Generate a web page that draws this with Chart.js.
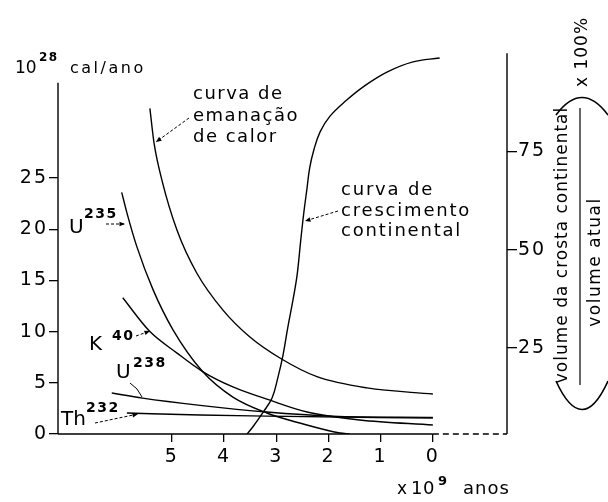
<!DOCTYPE html>
<html><head><meta charset="utf-8">
<script src="https://cdn.jsdelivr.net/npm/chart.js@4.4.1/dist/chart.umd.min.js"></script>
<style>html,body{margin:0;padding:0;background:#fff;}canvas{display:block;}</style>
</head><body>
<canvas id="c" width="608" height="502"></canvas>
<script>
// ---- tick labels ----
const xTicks = [5, 4, 3, 2, 1, 0];
const yTicks = [0, 5, 10, 15, 20, 25];
const y2Ticks = [25, 50, 75];

// ---- series (age in 10^9 anos, value) ----
const heatAge = [5.42, 5.34, 5.19, 4.90, 4.52, 4.02, 3.51, 2.89, 2.22, 1.26, 0];
const heatVal = [31.8, 28.4, 24.8, 19.9, 15.7, 12.1, 9.5, 7.3, 5.6, 4.5, 3.9];

const u235Age = [5.96, 5.86, 5.67, 5.36, 4.98, 4.41, 3.83, 3.18, 2.55, 1.78, 1.59];
const u235Val = [23.6, 21.6, 18.3, 14.1, 10.2, 6.1, 3.6, 2.05, 1.07, 0.1, 0];

const k40Age = [5.94, 5.42, 4.90, 4.41, 3.83, 3.12, 2.41, 1.40, 0];
const k40Val = [13.3, 10.0, 7.9, 6.1, 4.6, 3.3, 2.15, 1.37, 0.88];

const u238Age = [6.15, 5.56, 4.46, 3.18, 1.92, 0];
const u238Val = [4.0, 3.5, 2.8, 2.15, 1.75, 1.62];

const th232Age = [5.86, 4.46, 3.18, 0];
const th232Val = [2.05, 1.85, 1.75, 1.55];

// continental growth, % of present volume (right axis)
const growthAge = [3.56, 3.45, 3.26, 3.08, 2.97, 2.87, 2.78, 2.68, 2.60, 2.53, 2.47, 2.41, 2.36, 2.28, 2.16, 1.97, 1.65, 1.34, 0.88, 0.38, -0.13];
const growthVal = [3.1, 4.9, 8.5, 12.3, 17.4, 23.2, 30.1, 37.2, 43.6, 52.5, 59.6, 65.7, 70.8, 75.4, 80.0, 84.0, 88.1, 91.4, 95.2, 97.8, 98.8];

const zip = (a, b) => a.map((v, i) => ({x: v, y: b[i]}));
const FF = '"DejaVu Sans", sans-serif';

const spacing = {
  id: 'spacing',
  beforeDraw(chart) { chart.ctx.letterSpacing = '2px'; },
  afterDatasetsDraw(chart) { chart.ctx.letterSpacing = '0px'; }
};

function arrowHead(ctx, x1, y1, x2, y2, size) {
  const a = Math.atan2(y2 - y1, x2 - x1);
  ctx.beginPath();
  ctx.moveTo(x2, y2);
  ctx.lineTo(x2 - size * Math.cos(a - 0.4), y2 - size * Math.sin(a - 0.4));
  ctx.lineTo(x2 - size * Math.cos(a + 0.4), y2 - size * Math.sin(a + 0.4));
  ctx.closePath();
  ctx.fill();
}
function arrow(ctx, x1, y1, x2, y2, dashed) {
  ctx.save();
  ctx.lineWidth = 1;
  ctx.setLineDash(dashed ? [3, 2] : []);
  ctx.beginPath(); ctx.moveTo(x1, y1); ctx.lineTo(x2, y2); ctx.stroke();
  ctx.setLineDash([]);
  arrowHead(ctx, x1, y1, x2, y2, 6);
  ctx.restore();
}
function txt(ctx, s, x, y, size, bold, sp) {
  ctx.font = (bold ? 'bold ' : '') + size + 'px ' + FF;
  ctx.letterSpacing = (sp || 0) + 'px';
  ctx.fillText(s, x, y);
}

const annot = {
  id: 'annot',
  afterDraw(chart) {
    const ctx = chart.ctx;
    const {x, y, y2} = chart.scales;
    const ca = chart.chartArea;
    ctx.save();
    ctx.strokeStyle = '#000';
    ctx.fillStyle = '#000';
    ctx.lineWidth = 1.4;
    // axis lines
    ctx.beginPath();
    ctx.moveTo(ca.left, y.getPixelForValue(0));
    ctx.lineTo(ca.left, y.getPixelForValue(34.3));
    ctx.moveTo(ca.left, y.getPixelForValue(0));
    ctx.lineTo(x.getPixelForValue(0), y.getPixelForValue(0));
    ctx.moveTo(ca.right, y.getPixelForValue(0));
    ctx.lineTo(ca.right, y2.getPixelForValue(100));
    ctx.stroke();
    ctx.setLineDash([6, 4]);
    ctx.beginPath();
    ctx.moveTo(x.getPixelForValue(0), y.getPixelForValue(0));
    ctx.lineTo(ca.right, y.getPixelForValue(0));
    ctx.stroke();
    ctx.setLineDash([]);

    ctx.textAlign = 'left';
    ctx.textBaseline = 'alphabetic';
    // left axis title
    txt(ctx, '10', 15, 73, 17, false, 0);
    txt(ctx, '28', 39, 61, 12, true, 1.5);
    txt(ctx, 'cal/ano', 70, 73, 16, false, 2.5);
    // heat emanation label
    txt(ctx, 'curva de', 193, 99, 18, false, 1.5);
    txt(ctx, 'emanação', 193, 121, 18, false, 1.5);
    txt(ctx, 'de calor', 193, 142, 18, false, 1.5);
    arrow(ctx, 189, 118, 156, 142, true);
    // continental growth label
    txt(ctx, 'curva de', 341, 195, 18, false, 1.8);
    txt(ctx, 'crescimento', 341, 216, 18, false, 1.8);
    txt(ctx, 'continental', 341, 236, 18, false, 1.8);
    arrow(ctx, 338, 211, 305, 221, true);
    // isotope labels
    txt(ctx, 'U', 69, 233, 20, false, 0);
    txt(ctx, '235', 84, 218, 14, true, 1.5);
    arrow(ctx, 106, 224, 125, 224, true);
    txt(ctx, 'K', 89, 350, 20, false, 0);
    txt(ctx, '40', 112, 340, 14, true, 1.5);
    arrow(ctx, 136, 336, 150, 331, true);
    txt(ctx, 'U', 116, 378, 20, false, 0);
    txt(ctx, '238', 133, 367, 14, true, 1.5);
    ctx.lineWidth = 1;
    ctx.beginPath(); ctx.moveTo(130, 383); ctx.quadraticCurveTo(138, 388, 142, 397); ctx.stroke();
    txt(ctx, 'Th', 61, 425, 20, false, 0);
    txt(ctx, '232', 86, 412, 14, true, 1.5);
    arrow(ctx, 95, 423, 138, 414, true);
    // x axis title
    txt(ctx, 'x', 397, 494, 17, false, 0);
    txt(ctx, '10', 411, 494, 18, false, 0.5);
    txt(ctx, '9', 438, 485, 13, true, 0);
    txt(ctx, 'anos', 463, 494, 18, false, 1);

    // right axis title (rotated)
    ctx.save();
    ctx.translate(583, 245);
    ctx.rotate(-Math.PI / 2);
    ctx.textAlign = 'center';
    ctx.textBaseline = 'middle';
    txt(ctx, 'volume da crosta continental', 0, -20, 17, false, 1);
    txt(ctx, 'volume atual', -17, 13, 17, false, 1.5);
    ctx.lineWidth = 1.2;
    ctx.beginPath(); ctx.moveTo(-140, -3); ctx.lineTo(137, -3); ctx.stroke();
    txt(ctx, 'x 100%', 193, 0, 17, false, 1);
    ctx.restore();
    // parentheses around the fraction
    ctx.lineWidth = 1.6;
    ctx.beginPath();
    ctx.moveTo(556, 381); ctx.quadraticCurveTo(582, 438, 608, 381);
    ctx.moveTo(556, 115); ctx.quadraticCurveTo(582, 80, 608, 115);
    ctx.stroke();

    ctx.restore();
  }
};

const tickFont = {family: FF, size: 19};
const gridCfg = (len) => ({display: true, drawOnChartArea: false, drawTicks: true, tickLength: len, color: '#000', lineWidth: 1.3});

new Chart(document.getElementById('c'), {
  type: 'line',
  data: {
    datasets: [
      {data: zip(heatAge, heatVal), yAxisID: 'y'},
      {data: zip(u235Age, u235Val), yAxisID: 'y'},
      {data: zip(k40Age, k40Val), yAxisID: 'y'},
      {data: zip(u238Age, u238Val), yAxisID: 'y'},
      {data: zip(th232Age, th232Val), yAxisID: 'y'},
      {data: zip(growthAge, growthVal), yAxisID: 'y2', cubicInterpolationMode: 'default', tension: 0.4}
    ]
  },
  options: {
    responsive: false,
    animation: false,
    devicePixelRatio: 1,
    layout: {padding: {top: 50, left: 0, right: 0, bottom: 0}},
    plugins: {legend: {display: false}, tooltip: {enabled: false}},
    elements: {
      point: {radius: 0},
      line: {borderWidth: 1.4, borderColor: '#000', cubicInterpolationMode: 'monotone', fill: false}
    },
    scales: {
      x: {
        type: 'linear', reverse: true, min: -1.42, max: 7.18,
        afterFit(s) { s.height = 68; },
        afterBuildTicks(s) { s.ticks = xTicks.map(v => ({value: v})); },
        grid: gridCfg(8), border: {display: false},
        ticks: {color: '#000', font: tickFont, padding: 4, maxRotation: 0, autoSkip: false}
      },
      y: {
        position: 'left', min: 0, max: 37.5,
        afterFit(s) { s.width = 58; },
        afterBuildTicks(s) { s.ticks = yTicks.map(v => ({value: v})); },
        grid: gridCfg(9), border: {display: false},
        ticks: {color: '#000', font: tickFont, padding: 1, autoSkip: false}
      },
      y2: {
        position: 'right', min: 3.12, max: 100.83,
        afterFit(s) { s.width = 101; },
        afterBuildTicks(s) { s.ticks = y2Ticks.map(v => ({value: v})); },
        grid: gridCfg(10), border: {display: false},
        ticks: {color: '#000', font: tickFont, padding: 1, autoSkip: false}
      }
    }
  },
  plugins: [spacing, annot]
});
</script>
</body></html>
